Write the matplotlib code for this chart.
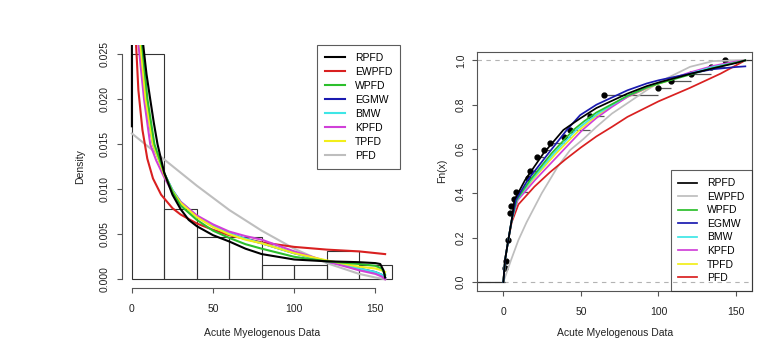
import numpy as np
import pandas as pd
import matplotlib
matplotlib.use("Agg")
import matplotlib.pyplot as plt

plt.rcParams['font.family'] = ['Liberation Sans', 'DejaVu Sans']
plt.rcParams['font.size'] = 7.5

# AML survival times (weeks), 32 obs
aml = np.array([1, 1, 2, 3, 3, 3, 4, 4, 4, 4, 5, 7, 8, 16, 16, 17, 22, 22, 26, 30,
                39, 43, 56, 56, 65, 65, 65, 100, 108, 121, 134, 143])
breaks = np.arange(0, 161, 20)

# ---- fitted densities ----
rpfd_pdf_x = [0, 0.4, 3, 5, 7, 9, 11.3, 13.5, 15.8, 20, 25, 30, 35, 40, 50, 60, 70, 80, 100, 120, 140, 150, 153, 155, 156]
rpfd_pdf_y = [0.017, 0.2, 0.06, 0.035, 0.026, 0.0228, 0.020, 0.0174, 0.015, 0.0118, 0.0094, 0.0078, 0.0066, 0.0059,
              0.0049, 0.0042, 0.0034, 0.0028, 0.0022, 0.0020, 0.0019, 0.0018, 0.0017, 0.0010, 0.0002]
ewpfd_pdf_x = [0.3, 1, 2.6, 4, 6.5, 9.5, 13, 18, 25, 30, 40, 50, 60, 80, 100, 120, 140, 156]
ewpfd_pdf_y = [0.12, 0.045, 0.026, 0.021, 0.0166, 0.0134, 0.0112, 0.0094, 0.0079, 0.0072, 0.0062, 0.0055, 0.0049,
               0.0041, 0.0036, 0.0033, 0.0031, 0.0028]
wpfd_pdf_x = [0.4, 3, 6.3, 9.6, 13.9, 20, 25, 30, 40, 50, 60, 70, 80, 100, 120, 140, 150, 154, 156]
wpfd_pdf_y = [0.2, 0.045, 0.026, 0.020, 0.015, 0.0118, 0.0097, 0.0082, 0.0066, 0.0054, 0.0046, 0.0039, 0.0034,
              0.0025, 0.0020, 0.0017, 0.0015, 0.0012, 0.0005]
egmw_pdf_x = [0.4, 2.5, 5, 8.5, 13, 20, 25, 30, 40, 50, 60, 70, 80, 100, 120, 140, 150, 154, 156]
egmw_pdf_y = [0.2, 0.045, 0.026, 0.020, 0.015, 0.0117, 0.0099, 0.0086, 0.0070, 0.0059, 0.0051, 0.0045, 0.0040,
              0.0029, 0.0020, 0.0012, 0.0008, 0.0005, 0.0002]
bmw_pdf_x = [0.4, 2.5, 5, 8.5, 13, 20, 25, 30, 40, 50, 60, 70, 80, 100, 120, 140, 150, 154, 156]
bmw_pdf_y = [0.2, 0.045, 0.026, 0.020, 0.015, 0.0117, 0.0099, 0.0086, 0.0070, 0.0059, 0.0051, 0.0045, 0.0040,
             0.0029, 0.0020, 0.0012, 0.0008, 0.0005, 0.0002]
kpfd_pdf_x = [0.4, 2, 4.1, 7.5, 11.3, 15, 20, 25, 30, 40, 50, 60, 70, 80, 100, 120, 140, 150, 154, 156]
kpfd_pdf_y = [0.2, 0.045, 0.026, 0.020, 0.015, 0.0132, 0.0113, 0.0097, 0.0086, 0.0071, 0.0061, 0.0053, 0.0048,
              0.0044, 0.0031, 0.0020, 0.0010, 0.0006, 0.0003, 0.0]
tpfd_pdf_x = [0.4, 2.5, 5.3, 8.5, 13, 20, 25, 30, 40, 50, 60, 70, 80, 100, 120, 140, 150, 154, 156]
tpfd_pdf_y = [0.2, 0.045, 0.026, 0.020, 0.015, 0.0116, 0.0098, 0.0085, 0.0069, 0.0058, 0.0050, 0.0044, 0.0040,
              0.0029, 0.0021, 0.0014, 0.0012, 0.0010, 0.0008]
pfd_pdf_x = [0, 20, 40, 60, 80, 100, 120, 140, 150, 156]
pfd_pdf_y = [0.0162, 0.0133, 0.0104, 0.0077, 0.0054, 0.0034, 0.0018, 0.0006, 0.0002, 0.0]

# ---- fitted cdfs ----
rpfd_cdf_x = [0, 1.1, 3.2, 5.4, 7.1, 14, 25.8, 38.7, 49.5, 60, 80, 92.5, 100, 120, 135, 150, 156]
rpfd_cdf_y = [0, 0.10, 0.19, 0.28, 0.37, 0.46, 0.58, 0.686, 0.738, 0.785, 0.85, 0.884, 0.90, 0.938, 0.964, 0.988, 1.0]
ewpfd_cdf_x = [0, 2, 5, 9.7, 15, 24.7, 35, 43, 51.6, 60, 70, 81.7, 92.5, 103, 120.4, 135.4, 154.7]
ewpfd_cdf_y = [0, 0.04, 0.10, 0.189, 0.27, 0.40, 0.52, 0.595, 0.645, 0.70, 0.76, 0.815, 0.866, 0.911, 0.971, 0.997, 1.0]
wpfd_cdf_x = [0, 1.1, 3.2, 5.4, 8.5, 17.2, 31, 45.1, 52, 60, 80, 92.5, 100, 120, 135, 150, 156]
wpfd_cdf_y = [0, 0.10, 0.19, 0.28, 0.37, 0.46, 0.58, 0.686, 0.725, 0.765, 0.84, 0.878, 0.895, 0.935, 0.965, 0.99, 1.0]
egmw_cdf_x = [0, 1.1, 3.2, 5.4, 8, 15.7, 29, 40.9, 49.5, 60, 80, 92.5, 100, 120, 135, 150, 156]
egmw_cdf_y = [0, 0.10, 0.19, 0.28, 0.37, 0.46, 0.58, 0.686, 0.753, 0.80, 0.865, 0.896, 0.91, 0.94, 0.96, 0.97, 0.973]
bmw_cdf_x = [0, 1.1, 3.2, 5.4, 8.7, 18, 32.5, 47, 55, 62, 80, 92.5, 100, 120, 135, 150, 156]
bmw_cdf_y = [0, 0.10, 0.19, 0.28, 0.37, 0.46, 0.58, 0.686, 0.73, 0.765, 0.84, 0.878, 0.897, 0.94, 0.97, 0.99, 1.0]
kpfd_cdf_x = [0, 1.1, 3.2, 5.4, 9.3, 20.4, 36.6, 51, 60, 70, 80, 92.5, 100, 120, 135, 150, 156]
kpfd_cdf_y = [0, 0.10, 0.19, 0.28, 0.37, 0.46, 0.58, 0.686, 0.74, 0.79, 0.835, 0.876, 0.897, 0.945, 0.975, 0.995, 1.0]
tpfd_cdf_x = [0, 1.1, 3.2, 5.4, 9, 18.7, 34, 49, 60, 70, 80, 92.5, 100, 120, 135, 150, 156]
tpfd_cdf_y = [0, 0.10, 0.19, 0.28, 0.37, 0.46, 0.58, 0.686, 0.75, 0.795, 0.835, 0.874, 0.895, 0.94, 0.97, 0.992, 1.0]
pfd_cdf_x = [0, 1.1, 3.2, 5.4, 9.7, 20, 30, 40, 50, 60, 70, 80, 100, 120, 140, 156]
pfd_cdf_y = [0, 0.10, 0.19, 0.27, 0.35, 0.43, 0.495, 0.553, 0.607, 0.657, 0.70, 0.745, 0.815, 0.875, 0.94, 1.0]

c_black, c_red, c_green = 'black', '#d92020', '#2cbf2c'
c_blue, c_cyan, c_mag = '#1a1ab0', '#3ee6e6', '#d040d8'
c_yel, c_gray = '#f2ee1a', '#bebebe'
axcol = '#555555'

fig = plt.figure(figsize=(7.83, 3.54), dpi=100)
W, H = 783, 354
ax1 = fig.add_axes([121.5 / W, 1 - 288.3 / H, (402 - 121.5) / W, (288.3 - 45.3) / H])
ax2 = fig.add_axes([477.3 / W, 1 - 290.9 / H, (752.3 - 477.3) / W, (290.9 - 51.5) / H])

# ---------------- left: histogram + densities ----------------
counts = pd.Series(pd.cut(aml, breaks, right=True)).value_counts(sort=False).values
dens = counts / (len(aml) * 20.0)
ax1.bar(breaks[:-1], dens, width=20, align='edge', fill=False, edgecolor='#333333', linewidth=0.8)

lw = 1.5
ax1.plot(pfd_pdf_x, pfd_pdf_y, color=c_gray, lw=lw, label='PFD')
ax1.plot(ewpfd_pdf_x, ewpfd_pdf_y, color=c_red, lw=lw, label='EWPFD')
ax1.plot(egmw_pdf_x, egmw_pdf_y, color=c_blue, lw=lw, label='EGMW')
ax1.plot(bmw_pdf_x, bmw_pdf_y, color=c_cyan, lw=lw, label='BMW')
ax1.plot(kpfd_pdf_x, kpfd_pdf_y, color=c_mag, lw=lw, label='KPFD')
ax1.plot(tpfd_pdf_x, tpfd_pdf_y, color=c_yel, lw=lw, label='TPFD')
ax1.plot(wpfd_pdf_x, wpfd_pdf_y, color=c_green, lw=lw, label='WPFD')
ax1.plot(rpfd_pdf_x, rpfd_pdf_y, color=c_black, lw=lw, label='RPFD')

ax1.set_xlim(-6.4, 166.4)
ax1.set_ylim(-0.001, 0.026)
for s in ['top', 'right']:
    ax1.spines[s].set_visible(False)
ax1.spines['left'].set_bounds(0, 0.025)
ax1.spines['bottom'].set_bounds(0, 150)
ax1.set_xticks([0, 50, 100, 150])
ax1.set_yticks([0, 0.005, 0.010, 0.015, 0.020, 0.025])
ax1.set_yticklabels(['0.000', '0.005', '0.010', '0.015', '0.020', '0.025'])
ax1.set_xlabel('Acute Myelogenous Data')
ax1.set_ylabel('Density')
ax1.xaxis.set_label_coords(0.5, -0.165)
ax1.yaxis.set_label_coords(-0.13, 0.5)

h, l = ax1.get_legend_handles_labels()
order = ['RPFD', 'EWPFD', 'WPFD', 'EGMW', 'BMW', 'KPFD', 'TPFD', 'PFD']
hd = dict(zip(l, h))
leg1 = ax1.legend([hd[k] for k in order], order, loc='upper right', bbox_to_anchor=(0.993, 1.0),
                  borderaxespad=0, fancybox=False, edgecolor='#333333', facecolor='none',
                  handlelength=1.9, handletextpad=0.95, labelspacing=0.38, borderpad=0.75)
leg1.get_frame().set_linewidth(0.8)

# ---------------- right: ecdf + cdfs ----------------
ax2.axhline(0, color='#b3b3b3', lw=0.8, ls=(0, (4, 4)))
ax2.axhline(1, color='#b3b3b3', lw=0.8, ls=(0, (4, 4)))

kx, kc = np.unique(aml, return_counts=True)
Fn = np.cumsum(kc) / len(aml)
ax2.set_xlim(-16.8, 160.5)
ax2.hlines([0], -16.8, kx[0], color='#333333', lw=0.9)
ax2.hlines(Fn[:-1], kx[:-1], kx[1:], color='#555555', lw=0.9)
ax2.hlines([1], kx[-1], 160.5, color='#333333', lw=0.9)
ax2.plot(kx, Fn, 'o', color='black', ms=3.5)

lw2 = 1.25
ax2.plot(ewpfd_cdf_x, ewpfd_cdf_y, color=c_gray, lw=lw2, label='EWPFD')
ax2.plot(pfd_cdf_x, pfd_cdf_y, color=c_red, lw=lw2, label='PFD')
ax2.plot(tpfd_cdf_x, tpfd_cdf_y, color=c_yel, lw=lw2, label='TPFD')
ax2.plot(kpfd_cdf_x, kpfd_cdf_y, color=c_mag, lw=lw2, label='KPFD')
ax2.plot(bmw_cdf_x, bmw_cdf_y, color=c_cyan, lw=lw2, label='BMW')
ax2.plot(wpfd_cdf_x, wpfd_cdf_y, color=c_green, lw=lw2, label='WPFD')
ax2.plot(egmw_cdf_x, egmw_cdf_y, color=c_blue, lw=lw2, label='EGMW')
ax2.plot(rpfd_cdf_x, rpfd_cdf_y, color=c_black, lw=lw2, label='RPFD')

ax2.set_ylim(-0.04, 1.04)
ax2.set_xticks([0, 50, 100, 150])
ax2.set_yticks([0, 0.2, 0.4, 0.6, 0.8, 1.0])
ax2.set_yticklabels(['0.0', '0.2', '0.4', '0.6', '0.8', '1.0'])
ax2.set_xlabel('Acute Myelogenous Data')
ax2.set_ylabel('Fn(x)')
ax2.xaxis.set_label_coords(0.5, -0.157)
ax2.yaxis.set_label_coords(-0.11, 0.5)

h, l = ax2.get_legend_handles_labels()
hd = dict(zip(l, h))
leg2 = ax2.legend([hd[k] for k in order], order, loc='lower right', bbox_to_anchor=(1.0, 0.0),
                  borderaxespad=0, fancybox=False, edgecolor='#333333', facecolor='none',
                  handlelength=1.8, handletextpad=0.95, labelspacing=0.34, borderpad=0.75)
leg2.get_frame().set_linewidth(0.8)

for ax in (ax1, ax2):
    for s in ax.spines.values():
        s.set_color(axcol)
        s.set_linewidth(0.8)
    ax.tick_params(direction='out', length=3.3, width=0.8, color=axcol, labelcolor='#222222')
    ax.tick_params(axis='x', pad=8)
    ax.tick_params(axis='y', pad=5, labelrotation=90)
    for t in ax.get_yticklabels():
        t.set_va('center')
    ax.xaxis.label.set_color('#222222')
    ax.yaxis.label.set_color('#222222')

fig.savefig('out.png', dpi=100)
